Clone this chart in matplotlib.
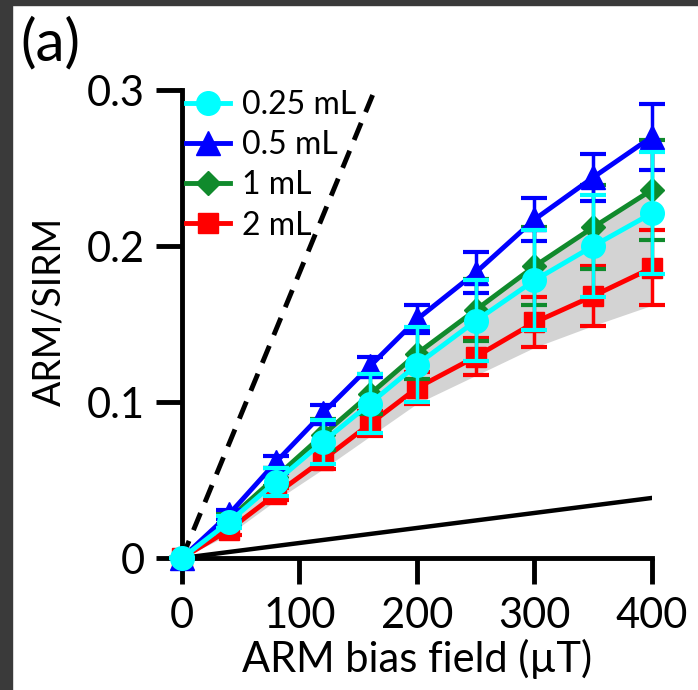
import matplotlib
matplotlib.use("Agg")
import matplotlib.pyplot as plt
from matplotlib.patches import Rectangle

plt.rcParams['font.family'] = ['Lato', 'DejaVu Sans']

# ARM bias field (µT)
field = [0, 40, 80, 120, 160, 200, 250, 300, 350, 400]

# ARM/SIRM per sample volume, with error bars
v025 = [0, 0.023, 0.049, 0.0745, 0.099, 0.124, 0.152, 0.178, 0.200, 0.221]
e025 = [0, 0.004, 0.009, 0.014, 0.019, 0.024, 0.026, 0.032, 0.033, 0.039]
v05 = [0, 0.028, 0.0615, 0.093, 0.123, 0.153, 0.183, 0.217, 0.244, 0.270]
e05 = [0, 0.003, 0.004, 0.005, 0.006, 0.009, 0.013, 0.014, 0.015, 0.021]
v1 = [0, 0.025, 0.052, 0.079, 0.105, 0.131, 0.159, 0.187, 0.212, 0.236]
e1 = [0, 0.003, 0.006, 0.010, 0.013, 0.016, 0.020, 0.025, 0.027, 0.032]
v2 = [0, 0.018, 0.041, 0.063, 0.086, 0.109, 0.129, 0.151, 0.168, 0.186]
e2 = [0, 0.003, 0.004, 0.006, 0.008, 0.010, 0.012, 0.016, 0.019, 0.024]

labels = ['0.25 mL', '0.5 mL', '1 mL', '2 mL']

# Reference lines (steep dashed and shallow solid)
dash_x = [0, 164]
dash_y = [0, 0.3]
solid_x = [0, 400]
solid_y = [0, 0.0385]

fig = plt.figure(figsize=(6.98, 6.90), dpi=100)
ax = fig.add_axes([182 / 698, 1 - 558 / 690, 470 / 698, 468 / 690])

# shaded envelope between the 2 mL lower bound and the 1 mL curve
lower = [v - e for v, e in zip(v2, e2)]
ax.fill_between(field, lower, v1, color='#d3d3d3', lw=0, zorder=1)

ax.plot(dash_x, dash_y, color='black', lw=3.5, dashes=(3.8, 2.4), zorder=2)
ax.plot(solid_x, solid_y, color='black', lw=3.2, zorder=2)

series = [
    (v2, e2, '#ff0000', 's', 15, 3),
    (v1, e1, '#108a2c', 'D', 12, 4),
    (v05, e05, '#0000ff', '^', 17, 5),
    (v025, e025, '#00ffff', 'o', 17, 6),
]
handles = {}
for (vals, errs, col, mk, ms, z), lab in zip(series, labels[::-1]):
    cont = ax.errorbar(field, vals, yerr=errs, color=col, marker=mk, ms=ms,
                       lw=3.5, elinewidth=2.5, capsize=9.5, capthick=3,
                       zorder=z, clip_on=False)
    for art in cont.lines[1] + cont.lines[2]:
        art.set_clip_on(False)
    handles[lab] = cont.lines[0]

ax.set_xlim(0, 400)
ax.set_ylim(0, 0.3)
ax.set_xticks([0, 100, 200, 300, 400])
ax.set_yticks([0, 0.1, 0.2, 0.3])
ax.set_yticklabels(['0', '0.1', '0.2', '0.3'])
for s in ['top', 'right']:
    ax.spines[s].set_visible(False)
for s in ['left', 'bottom']:
    ax.spines[s].set_linewidth(3.5)
ax.tick_params(direction='out', length=19, width=3.5, labelsize=30)
ax.tick_params(axis='x', pad=9)
ax.tick_params(axis='y', pad=8)

ax.set_xlabel('ARM bias field (µT)', fontsize=30, labelpad=3)
ax.set_ylabel('ARM/SIRM', fontsize=27)
ax.yaxis.set_label_coords(-0.243, 0.526)

leg = ax.legend([handles[l] for l in labels], labels, loc='upper left',
                bbox_to_anchor=(0.008, 1.0), frameon=False, fontsize=23,
                handlelength=1.4, handletextpad=0.35, labelspacing=0.32,
                borderpad=0, borderaxespad=0)

fig.text(20 / 698, 1 - 44 / 690, '(a)', fontsize=42, va='center', ha='left')

# dark frame strips along the left and top edges
fig.add_artist(Rectangle((0, 0), 12 / 698, 1, transform=fig.transFigure,
                         color='#3a3a3a', zorder=10))
fig.add_artist(Rectangle((0, 1 - 5 / 690), 1, 5 / 690, transform=fig.transFigure,
                         color='#3a3a3a', zorder=10))

fig.savefig('out.png', dpi=100)
